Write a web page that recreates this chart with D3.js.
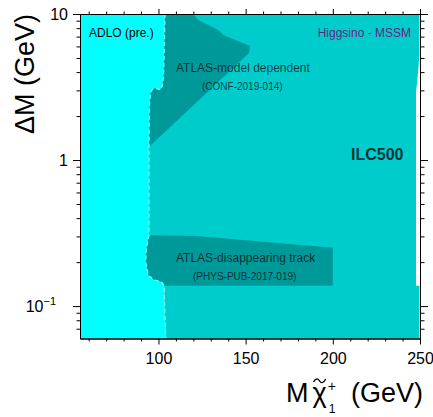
<!DOCTYPE html>
<html><head><meta charset="utf-8">
<script src="https://cdn.jsdelivr.net/npm/d3@7"></script>
<style>
body{margin:0;background:#fff}
svg{display:block}
text{font-family:"Liberation Sans",Arial,Helvetica,sans-serif}
</style>
</head><body>
<svg id="c" width="433" height="417"></svg>
<script>
// ---------- data ----------
const xDomain = [55, 250];
const yDomain = [0.06, 10];
const xMajorTicks = [100, 150, 200, 250];
const xMinorTicks = [60, 70, 80, 90, 110, 120, 130, 140, 160, 170, 180, 190, 210, 220, 230, 240];
const yMajorTicks = [0.1, 1, 10];
const yMinorTicks = [0.07, 0.08, 0.09, 0.2, 0.3, 0.4, 0.5, 0.6, 0.7, 0.8, 0.9, 2, 3, 4, 5, 6, 7, 8, 9];

// ADLO (LEP) exclusion boundary, top to bottom  [M chargino, dM]
const adloBoundary = [[103.75,10],[103.46,6.33],[102.89,3.70],[102.2,3.21],[100.88,3.02],[98.59,3.11],[96.58,3.06],[95.43,2.88],[94.86,2.38],[94.57,1.23],[94.57,0.532],[94.57,0.306],[93.14,0.250],[92.68,0.200],[94.17,0.163],[97.04,0.152],[101.86,0.146],[103.35,0.138],[103.46,0.110],[104.15,0.06]];
// ILC500 reach, right edge from bottom to top
const ilcRightEdge = [[249.7,0.06],[249.7,0.138],[247.7,0.138],[247.7,2.94],[248.4,3.43],[249.7,5.24],[249.7,10]];
// ATLAS model dependent (CONF-2019-014)
const atlasModelDep = [[103.75,10],[103.46,6.33],[102.89,3.70],[102.2,3.21],[100.88,3.02],[98.59,3.11],[96.58,3.06],[95.43,2.88],[94.86,2.38],[94.57,1.23],[151.9,5.41],[152.5,6.04],[137.2,7.18],[134.3,7.77],[122.85,9.10],[120.0,10]];
// ATLAS disappearing track (PHYS-PUB-2017-019)
const atlasDisTrack = [[94.57,0.306],[93.14,0.250],[92.68,0.200],[94.17,0.163],[97.04,0.152],[101.86,0.146],[103.35,0.138],[200,0.138],[200,0.251],[160.1,0.276],[121.9,0.302]];

// ---------- layout ----------
const svg = d3.select("#c");
const L = 80, R = 420, T = 14, B = 338.5;
const x = d3.scaleLinear().domain(xDomain).range([L, R]);
const y = d3.scaleLog().domain(yDomain).range([B, T]);
const line = d3.line().x(d => x(d[0])).y(d => y(d[1]));

const adloPoly = [[xDomain[0], yDomain[1]], ...adloBoundary, [xDomain[0], yDomain[0]]];
const ilcPoly = [...adloBoundary, ...ilcRightEdge];

svg.append("path").attr("d", line(adloPoly) + "Z").attr("fill", "#00ffff");
svg.append("path").attr("d", line(ilcPoly) + "Z").attr("fill", "#00cccc");
svg.append("path").attr("d", line(atlasModelDep) + "Z").attr("fill", "#009999");
svg.append("path").attr("d", line(atlasDisTrack) + "Z").attr("fill", "#009999");
svg.append("path").attr("d", line(adloBoundary)).attr("fill", "none")
  .attr("stroke", "#80ffff").attr("stroke-width", 1.2).attr("stroke-dasharray", "4,3");

// ---------- texts in plot ----------
function txt(px, py, s, size, opts = {}) {
  return svg.append("text").attr("x", px).attr("y", py).text(s)
    .attr("font-size", size).attr("fill", opts.fill || "#000")
    .attr("font-weight", opts.bold ? "bold" : null)
    .attr("text-anchor", opts.anchor || "start");
}
txt(89, 37, "ADLO (pre.)", 12, {fill: "#000"});
txt(411, 37, "Higgsino - MSSM", 12, {fill: "#6b1f80", anchor: "end"});
txt(176, 72, "ATLAS-model dependent", 12, {fill: "rgba(0,0,0,0.7)"});
txt(202, 90, "(CONF-2019-014)", 10, {fill: "rgba(0,0,0,0.7)"});
txt(351, 160, "ILC500", 16, {fill: "rgba(0,0,0,0.75)", bold: true});
txt(176, 262, "ATLAS-disappearing track", 12, {fill: "rgba(0,0,0,0.7)"});
txt(193, 280, "(PHYS-PUB-2017-019)", 10, {fill: "rgba(0,0,0,0.7)"});

// ---------- axes ----------
function styleAxis(g) {
  g.select(".domain").attr("stroke", "#000").attr("stroke-width", 1);
  g.selectAll(".tick line").attr("stroke", "#000").attr("stroke-width", 1);
  g.selectAll("text").attr("font-family", '"Liberation Sans",Arial,Helvetica,sans-serif').attr("fill", "#000");
}
// bottom
svg.append("g").attr("transform", `translate(0,${B})`)
  .call(d3.axisBottom(x).tickValues(xMajorTicks).tickSize(6).tickPadding(8).tickSizeOuter(0).tickFormat(d3.format("d")))
  .call(styleAxis).call(g => g.selectAll("text").attr("font-size", 16));
svg.append("g").attr("transform", `translate(0,${B})`)
  .call(d3.axisBottom(x).tickValues(xMinorTicks).tickSize(3).tickSizeOuter(0).tickFormat(""))
  .call(styleAxis);
// top
svg.append("g").attr("transform", `translate(0,${T})`)
  .call(d3.axisTop(x).tickValues(xMajorTicks).tickSize(5).tickSizeOuter(0).tickFormat(""))
  .call(styleAxis);
svg.append("g").attr("transform", `translate(0,${T})`)
  .call(d3.axisTop(x).tickValues(xMinorTicks).tickSize(2.5).tickSizeOuter(0).tickFormat(""))
  .call(styleAxis);
// left
const yLeft = svg.append("g").attr("transform", `translate(${L},0)`)
  .call(d3.axisLeft(y).tickValues(yMajorTicks).tickSize(7).tickPadding(5).tickSizeOuter(0)
    .tickFormat(d => d === 0.1 ? "10" : d3.format("d")(d)))
  .call(styleAxis).call(g => g.selectAll("text").attr("font-size", 16));
const t01 = yLeft.selectAll(".tick").filter(d => d === 0.1).select("text").attr("x", -24);
t01.append("tspan").attr("font-size", 11).attr("dy", "-0.6em").text("\u22121");
svg.append("g").attr("transform", `translate(${L},0)`)
  .call(d3.axisLeft(y).tickValues(yMinorTicks).tickSize(3.5).tickSizeOuter(0).tickFormat(""))
  .call(styleAxis);
// right
svg.append("g").attr("transform", `translate(${R},0)`)
  .call(d3.axisRight(y).tickValues(yMajorTicks).tickSize(8).tickSizeOuter(0).tickFormat(""))
  .call(styleAxis);
svg.append("g").attr("transform", `translate(${R},0)`)
  .call(d3.axisRight(y).tickValues(yMinorTicks).tickSize(4.5).tickSizeOuter(0).tickFormat(""))
  .call(styleAxis);

// ---------- axis titles ----------
svg.append("text").attr("transform", "translate(34,74) rotate(-90)")
  .attr("text-anchor", "middle").attr("font-size", 27).text("\u0394M (GeV)");

const xt = svg.append("g");
const fs = 27, base = 402;
const mT = xt.append("text").attr("x", 286).attr("y", base).attr("font-size", fs).text("M");
const cx = 286 + mT.node().getComputedTextLength() + 4;
const chi = xt.append("text").attr("x", cx).attr("y", base).attr("font-size", fs).text("\u03c7");
const chiW = chi.node().getComputedTextLength();
// tilde over chi drawn as a small wave
const tx0 = cx + 1, tx1 = cx + chiW - 1, ty = 380;
const tw = tx1 - tx0;
xt.append("path")
  .attr("d", `M${tx0},${ty + 2} C${tx0 + tw * 0.25},${ty - 3} ${tx0 + tw * 0.4},${ty - 1} ${tx0 + tw * 0.5},${ty + 1} S${tx0 + tw * 0.8},${ty + 4} ${tx1},${ty - 1}`)
  .attr("fill", "none").attr("stroke", "#000").attr("stroke-width", 1.4);
const sx = cx + chiW + 1;
xt.append("text").attr("x", sx).attr("y", 391).attr("font-size", 14).text("+");
xt.append("text").attr("x", sx + 1).attr("y", 413).attr("font-size", 12).text("1");
xt.append("text").attr("x", 423).attr("y", base).attr("text-anchor", "end").attr("font-size", fs).text("(GeV)");
</script>
</body></html>
